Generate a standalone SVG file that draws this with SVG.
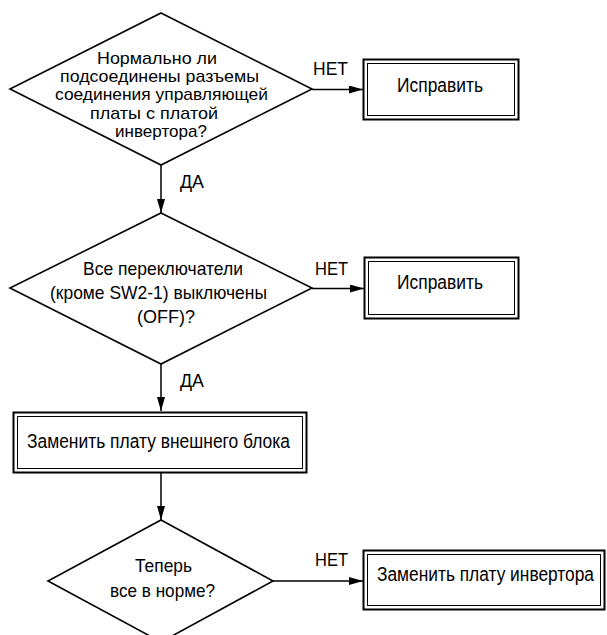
<svg xmlns="http://www.w3.org/2000/svg" width="607" height="635" viewBox="0 0 607 635">
<defs>
<style>
.shape{fill:#fff;stroke:#000;stroke-width:1.6}
.outer{fill:#fff;stroke:#000;stroke-width:2}
.inner{fill:none;stroke:#000;stroke-width:1}
.conn{fill:none;stroke:#000;stroke-width:1.5}
text{font-family:"Liberation Sans",Arial,sans-serif;fill:#000}
.d1{font-size:17px}
.d2{font-size:18.5px}
.bx{font-size:20px}
.lbl{font-size:18px}
</style>
<marker id="arr" markerUnits="userSpaceOnUse" markerWidth="14" markerHeight="8" refX="14" refY="4" orient="auto">
<path d="M0,0 L14,4 L0,8 z" fill="#000"/>
</marker>
</defs>
<rect width="607" height="635" fill="#fff"/>
<g id="connectors">
<line class="conn" x1="161" y1="165" x2="161" y2="213" marker-end="url(#arr)"/>
<line class="conn" x1="312" y1="89.5" x2="363" y2="89.5" marker-end="url(#arr)"/>
<line class="conn" x1="161" y1="364" x2="161" y2="411" marker-end="url(#arr)"/>
<line class="conn" x1="312" y1="288.5" x2="364" y2="288.5" marker-end="url(#arr)"/>
<line class="conn" x1="161" y1="473" x2="161" y2="520" marker-end="url(#arr)"/>
<line class="conn" x1="273" y1="581" x2="363" y2="581" marker-end="url(#arr)"/>
<text class="lbl" x="313" y="75" textLength="35" lengthAdjust="spacingAndGlyphs">НЕТ</text>
<text class="lbl" x="180" y="188" textLength="24" lengthAdjust="spacingAndGlyphs">ДА</text>
<text class="lbl" x="315" y="275" textLength="33" lengthAdjust="spacingAndGlyphs">НЕТ</text>
<text class="lbl" x="180" y="387" textLength="24" lengthAdjust="spacingAndGlyphs">ДА</text>
<text class="lbl" x="315" y="566" textLength="33" lengthAdjust="spacingAndGlyphs">НЕТ</text>
</g>
<g id="decision1">
<polygon class="shape" points="161,13 312,89 161,165 10,89"/>
<text class="d1" x="97" y="64" textLength="120" lengthAdjust="spacingAndGlyphs">Нормально ли</text>
<text class="d1" x="60" y="82" textLength="199" lengthAdjust="spacingAndGlyphs">подсоединены разъемы</text>
<text class="d1" x="55" y="100" textLength="213" lengthAdjust="spacingAndGlyphs">соединения управляющей</text>
<text class="d1" x="90" y="118.5" textLength="128" lengthAdjust="spacingAndGlyphs">платы с платой</text>
<text class="d1" x="115" y="137" textLength="92" lengthAdjust="spacingAndGlyphs">инвертора?</text>
</g>
<g id="fix1">
<rect class="outer" x="363.5" y="59.5" width="155" height="60"/>
<rect class="inner" x="367.5" y="63.5" width="147" height="52"/>
<text class="bx" x="397" y="92" textLength="86" lengthAdjust="spacingAndGlyphs">Исправить</text>
</g>
<g id="decision2">
<polygon class="shape" points="161,213 312,288 161,364 10,288"/>
<text class="d2" x="83" y="275" textLength="160" lengthAdjust="spacingAndGlyphs">Все переключатели</text>
<text class="d2" x="50" y="299" textLength="217" lengthAdjust="spacingAndGlyphs">(кроме SW2-1) выключены</text>
<text class="d2" x="137" y="323" textLength="58" lengthAdjust="spacingAndGlyphs">(OFF)?</text>
</g>
<g id="fix2">
<rect class="outer" x="364.5" y="257.5" width="154" height="61"/>
<rect class="inner" x="368.5" y="261.5" width="146" height="53"/>
<text class="bx" x="397" y="289" textLength="86" lengthAdjust="spacingAndGlyphs">Исправить</text>
</g>
<g id="replaceOutdoor">
<rect class="outer" x="13.5" y="412.5" width="293" height="60"/>
<rect class="inner" x="17.5" y="416.5" width="285" height="52"/>
<text class="bx" x="27" y="448" textLength="263" lengthAdjust="spacingAndGlyphs">Заменить плату внешнего блока</text>
</g>
<g id="decision3">
<polygon class="shape" points="161,520 273,581 161,642 48,581"/>
<text class="d2" x="135" y="572" textLength="57" lengthAdjust="spacingAndGlyphs">Теперь</text>
<text class="d2" x="110" y="597" textLength="105" lengthAdjust="spacingAndGlyphs">все в норме?</text>
</g>
<g id="replaceInverter">
<rect class="outer" x="363.5" y="550.5" width="241" height="59"/>
<rect class="inner" x="367.5" y="554.5" width="233" height="51"/>
<text class="bx" transform="translate(377,581) scale(0.87,1)" x="0" y="0" textLength="249.4" lengthAdjust="spacingAndGlyphs">Заменить плату инвертора</text>
</g>
</svg>
